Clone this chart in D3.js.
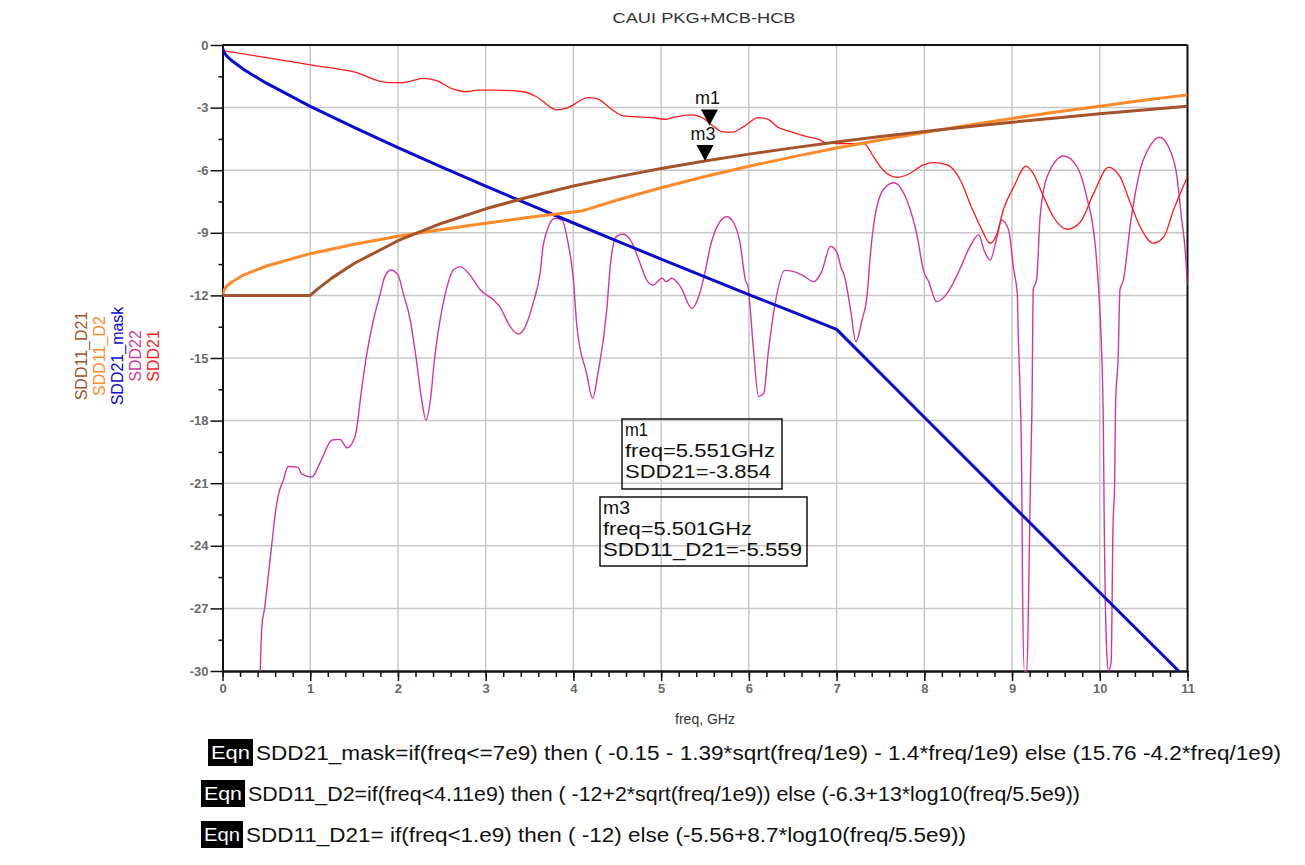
<!DOCTYPE html>
<html>
<head>
<meta charset="utf-8">
<script src="https://cdn.jsdelivr.net/npm/d3@7"></script>
<style>
  body { margin: 0; background: #fff; }
  text { font-family: "Liberation Sans", Arial, sans-serif; }
</style>
</head>
<body>
<div id="chart"></div>
<script>
// ---- data (freq in GHz, values in dB) ----
var maskFreq = [0, 0.02, 0.05, 0.1, 0.25, 0.5, 1, 1.5, 2, 2.5, 3, 3.5, 4, 4.5, 5, 5.5, 6, 6.5, 7, 8, 9, 10, 10.9];
var maskVal  = [-0.15, -0.37, -0.53, -0.73, -1.2, -1.83, -2.94, -3.95, -4.92, -5.85, -6.76, -7.65, -8.53, -9.4, -10.26, -11.11, -11.96, -12.79, -13.63, -17.84, -22.04, -26.24, -30];

var d2Freq = [0, 0.02, 0.05, 0.1, 0.25, 0.5, 1, 1.5, 2, 2.5, 3, 3.5, 4, 4.11, 4.5, 5, 5.5, 6, 6.5, 7, 7.5, 8, 8.5, 9, 9.5, 10, 10.5, 11];
var d2Val  = [-12, -11.72, -11.55, -11.37, -11.0, -10.59, -10.0, -9.55, -9.17, -8.84, -8.54, -8.26, -8.0, -7.94, -7.43, -6.84, -6.3, -5.81, -5.36, -4.94, -4.55, -4.19, -3.84, -3.52, -3.21, -2.93, -2.65, -2.39];

var d21Freq = [0, 1, 1.1, 1.25, 1.5, 2, 2.5, 3, 3.5, 4, 4.5, 5, 5.5, 6, 6.5, 7, 7.5, 8, 8.5, 9, 9.5, 10, 10.5, 11];
var d21Val  = [-12, -12, -11.64, -11.16, -10.47, -9.38, -8.54, -7.85, -7.27, -6.76, -6.32, -5.92, -5.56, -5.23, -4.93, -4.65, -4.39, -4.15, -3.92, -3.7, -3.5, -3.3, -3.12, -2.94];

var sdd21Freq = [0, 0.5, 1.02, 1.49, 1.89, 2.06, 2.29, 2.44, 2.63, 2.77, 2.92, 3.09, 3.43, 3.58, 3.81, 3.92, 4.17, 4.28, 4.42, 4.57, 4.87, 5.06, 5.14, 5.35, 5.48, 5.6, 5.69, 5.81, 5.94, 6.11, 6.22, 6.32, 6.47, 6.66, 6.81, 6.87, 7.0, 7.15, 7.31, 7.42, 7.53, 7.69, 7.8, 7.99, 8.1, 8.26, 8.41, 8.52, 8.64, 8.75, 8.83, 8.9, 9.02, 9.16, 9.24, 9.36, 9.47, 9.63, 9.78, 9.93, 10.1, 10.23, 10.35, 10.46, 10.61, 10.73, 10.84, 11.0];
var sdd21Val  = [-0.27, -0.6, -0.96, -1.28, -1.8, -1.8, -1.6, -1.71, -2.12, -2.24, -2.16, -2.16, -2.24, -2.48, -3.11, -3.03, -2.52, -2.59, -3.03, -3.4, -3.47, -3.56, -3.47, -3.35, -3.51, -3.91, -4.15, -4.18, -3.91, -3.48, -3.56, -3.91, -4.15, -4.39, -4.55, -4.68, -4.72, -4.73, -4.71, -5.35, -5.99, -6.34, -6.23, -5.75, -5.64, -5.75, -6.47, -7.59, -8.71, -9.5, -9.02, -7.91, -6.79, -5.8, -6.15, -7.27, -8.23, -8.83, -8.47, -7.11, -5.86, -6.31, -7.59, -8.71, -9.5, -9.19, -7.91, -6.31];

var sdd22Freq = [0.43, 0.45, 0.48, 0.52, 0.56, 0.6, 0.64, 0.69, 0.75, 0.86, 0.9, 1.02, 1.11, 1.25, 1.34, 1.42, 1.51, 1.59, 1.64, 1.72, 1.8, 1.85, 1.92, 2.0, 2.06, 2.14, 2.21, 2.27, 2.32, 2.37, 2.42, 2.48, 2.56, 2.63, 2.71, 2.82, 2.94, 3.09, 3.16, 3.28, 3.37, 3.43, 3.54, 3.62, 3.66, 3.79, 3.87, 3.94, 4.0, 4.04, 4.15, 4.22, 4.28, 4.38, 4.42, 4.49, 4.57, 4.67, 4.76, 4.84, 4.91, 5.01, 5.06, 5.12, 5.22, 5.35, 5.44, 5.5, 5.56, 5.67, 5.75, 5.82, 5.9, 5.96, 5.99, 6.05, 6.11, 6.17, 6.22, 6.3, 6.41, 6.51, 6.62, 6.74, 6.83, 6.93, 7.0, 7.06, 7.08, 7.16, 7.22, 7.29, 7.35, 7.38, 7.42, 7.53, 7.65, 7.8, 7.92, 7.99, 8.05, 8.14, 8.26, 8.41, 8.52, 8.62, 8.68, 8.75, 8.83, 8.88, 8.96, 9.02, 9.06, 9.07, 9.09, 9.11, 9.12, 9.14, 9.17, 9.19, 9.21, 9.23, 9.24, 9.28, 9.32, 9.4, 9.59, 9.74, 9.85, 9.95, 9.99, 10.01, 10.04, 10.05, 10.08, 10.1, 10.13, 10.15, 10.17, 10.18, 10.21, 10.23, 10.27, 10.35, 10.46, 10.58, 10.68, 10.8, 10.88, 10.93, 10.97, 11.0];
var sdd22Val  = [-30, -27.8, -27.0, -25.5, -24.0, -22.5, -21.5, -20.9, -20.2, -20.23, -20.55, -20.7, -20.04, -18.93, -18.9, -19.3, -18.77, -16.37, -14.93, -13.18, -11.9, -11.1, -10.78, -11.02, -11.9, -13.18, -15.09, -17.0, -17.97, -17.0, -14.93, -13.18, -11.58, -10.78, -10.62, -11.02, -11.74, -12.22, -12.54, -13.5, -13.85, -13.66, -12.38, -10.94, -9.5, -8.3, -8.39, -9.5, -11.26, -13.5, -15.73, -16.93, -15.73, -12.7, -10.6, -9.18, -9.06, -9.5, -10.46, -11.3, -11.5, -11.18, -11.34, -11.18, -11.58, -12.62, -11.9, -10.9, -9.66, -8.47, -8.23, -8.47, -9.5, -11.26, -11.58, -14.46, -16.85, -16.69, -14.77, -12.38, -10.8, -10.86, -11.05, -11.34, -10.86, -9.66, -9.9, -10.78, -10.94, -12.7, -14.22, -13.18, -11.9, -10.3, -8.71, -6.95, -6.6, -7.43, -9.18, -10.8, -11.34, -12.3, -11.9, -10.7, -9.66, -9.1, -9.82, -10.3, -9.18, -8.39, -8.86, -10.8, -11.9, -13.81, -16.37, -20.6, -26.1, -30, -30, -26.1, -20.8, -16.37, -11.74, -11.26, -8.23, -6.31, -5.32, -5.83, -7.27, -9.66, -11.9, -13.5, -17.97, -22.6, -29.15, -30, -29.55, -23.24, -20.84, -17.17, -14.93, -11.74, -11.26, -8.55, -5.99, -4.79, -4.42, -5.03, -6.31, -8.23, -9.66, -11.5];

var xTicks = [0, 1, 2, 3, 4, 5, 6, 7, 8, 9, 10, 11];
var yTicks = [0, -3, -6, -9, -12, -15, -18, -21, -24, -27, -30];

var legendNames  = ["SDD11_D21", "SDD11_D2", "SDD21_mask", "SDD22", "SDD21"];
var legendColors = ["#a5532b", "#ff8a2a", "#0a0ad2", "#d4369e", "#ff1a1a"];

var markerNames = ["m1", "m3"];
var markerFreq  = [5.551, 5.501];
var markerVal   = [-3.854, -5.559];
var markerText  = [["m1", "freq=5.551GHz", "SDD21=-3.854"], ["m3", "freq=5.501GHz", "SDD11_D21=-5.559"]];

var eqnLines = [
  "SDD21_mask=if(freq<=7e9) then ( -0.15 - 1.39*sqrt(freq/1e9) - 1.4*freq/1e9)  else (15.76 -4.2*freq/1e9)",
  "SDD11_D2=if(freq<4.11e9) then ( -12+2*sqrt(freq/1e9))  else (-6.3+13*log10(freq/5.5e9))",
  "SDD11_D21= if(freq<1.e9) then ( -12)  else (-5.56+8.7*log10(freq/5.5e9))"
];

// ---- layout ----
var W = 1305, H = 865;
var pL = 222.5, pR = 1187.5, pT = 45, pB = 671;

var svg = d3.select("#chart").append("svg")
  .attr("width", W).attr("height", H);

var x = d3.scaleLinear().domain([0, 11]).range([pL, pR]);
var y = d3.scaleLinear().domain([-30, 0]).range([pB, pT]);

// title
svg.append("text")
  .attr("x", 704).attr("y", 23)
  .attr("text-anchor", "middle")
  .attr("textLength", 183).attr("lengthAdjust", "spacingAndGlyphs")
  .style("font-size", "15px").attr("fill", "#333")
  .text("CAUI PKG+MCB-HCB");

// grid
svg.append("g").selectAll("line").data(xTicks.slice(1, -1)).enter().append("line")
  .attr("x1", d => x(d)).attr("x2", d => x(d))
  .attr("y1", pT).attr("y2", pB)
  .attr("stroke", "#c8c8c8").attr("stroke-width", 1.5);
svg.append("g").selectAll("line").data(yTicks.slice(1, -1)).enter().append("line")
  .attr("x1", pL).attr("x2", pR)
  .attr("y1", d => y(d)).attr("y2", d => y(d))
  .attr("stroke", "#c8c8c8").attr("stroke-width", 1.5);

// axes
var plainFmt = function(d) { return String(d); };
var xAxis = svg.append("g")
  .attr("transform", "translate(0," + pB + ")")
  .call(d3.axisBottom(x).tickValues(xTicks).tickSize(10).tickSizeOuter(0).tickPadding(3).tickFormat(plainFmt));
var xMinor = svg.append("g")
  .attr("transform", "translate(0," + pB + ")")
  .call(d3.axisBottom(x).ticks(55).tickSize(6).tickSizeOuter(0).tickFormat(""));
var yAxis = svg.append("g")
  .attr("transform", "translate(" + pL + ",0)")
  .call(d3.axisLeft(y).tickValues(yTicks).tickSize(12).tickSizeOuter(0).tickPadding(2).tickFormat(plainFmt));
var yMinor = svg.append("g")
  .attr("transform", "translate(" + pL + ",0)")
  .call(d3.axisLeft(y).tickValues(d3.range(-28.5, 0, 3)).tickSize(4).tickSizeOuter(0).tickFormat(""));

[xAxis, xMinor, yAxis, yMinor].forEach(function(g) {
  g.select(".domain").attr("stroke", "#111").attr("stroke-width", 2);
  g.selectAll(".tick line").attr("stroke", "#111").attr("stroke-width", 1.5);
  g.selectAll(".tick text").attr("fill", "#6a6a6a").style("font-size", "13px").style("font-weight", "bold");
});

// top and right border
svg.append("line").attr("x1", pL).attr("x2", pR).attr("y1", pT).attr("y2", pT)
  .attr("stroke", "#111").attr("stroke-width", 2);
svg.append("line").attr("x1", pR).attr("x2", pR).attr("y1", pT).attr("y2", pB)
  .attr("stroke", "#111").attr("stroke-width", 2);

// x label
svg.append("text")
  .attr("x", 705).attr("y", 724).attr("text-anchor", "middle")
  .style("font-size", "14px").attr("fill", "#333")
  .text("freq, GHz");

// clip
svg.append("clipPath").attr("id", "plotClip").append("rect")
  .attr("x", pL).attr("y", pT - 1).attr("width", pR - pL).attr("height", pB - pT + 2);

// measured traces smooth, equation traces straight between points (keeps the kinks)
var smoothLine = d3.line().x(d => x(d[0])).y(d => y(d[1])).curve(d3.curveMonotoneX);
var straightLine = d3.line().x(d => x(d[0])).y(d => y(d[1]));
function zip(a, b) { return a.map(function(v, i) { return [v, b[i]]; }); }

var plot = svg.append("g").attr("clip-path", "url(#plotClip)");

var series = [
  { pts: zip(sdd22Freq, sdd22Val), color: legendColors[3], w: 1.4, gen: smoothLine },
  { pts: zip(sdd21Freq, sdd21Val), color: legendColors[4], w: 1.3, gen: smoothLine },
  { pts: zip(maskFreq, maskVal),   color: legendColors[2], w: 3, gen: straightLine },
  { pts: zip(d2Freq, d2Val),       color: legendColors[1], w: 3, gen: straightLine },
  { pts: zip(d21Freq, d21Val),     color: legendColors[0], w: 3, gen: straightLine }
];
series.forEach(function(s) {
  plot.append("path")
    .datum(s.pts)
    .attr("d", s.gen)
    .attr("fill", "none")
    .attr("stroke", s.color)
    .attr("stroke-width", s.w)
    .attr("stroke-linejoin", "round");
});

// legend (rotated)
svg.append("g").selectAll("text").data(legendNames).enter().append("text")
  .attr("transform", function(d, i) { return "translate(" + (87 + i * 18) + ",356) rotate(-90)"; })
  .attr("text-anchor", "middle")
  .attr("fill", (d, i) => legendColors[i])
  .style("font-size", "16px")
  .text(d => d);

// markers
markerNames.forEach(function(m, i) {
  var px = x(markerFreq[i]), py = y(markerVal[i]);
  svg.append("path")
    .attr("d", "M" + (px - 8.5) + "," + (py - 16) + "L" + (px + 8.5) + "," + (py - 16) + "L" + px + "," + py + "Z")
    .attr("fill", "#000");
  svg.append("text")
    .attr("x", px - 2).attr("y", py - 21)
    .attr("text-anchor", "middle")
    .style("font-size", "18px").attr("fill", "#111")
    .text(m);
});

// marker readout boxes
var boxes = [
  { x: 622, y: 419, w: 160, h: 70, base: [436, 457, 478], len: [23, 150, 146] },
  { x: 600, y: 497, w: 207, h: 69, base: [514, 535, 556], len: [27, 149, 199] }
];
boxes.forEach(function(b, i) {
  svg.append("rect")
    .attr("x", b.x).attr("y", b.y).attr("width", b.w).attr("height", b.h)
    .attr("fill", "none").attr("stroke", "#111").attr("stroke-width", 1.5);
  markerText[i].forEach(function(t, j) {
    svg.append("text")
      .attr("x", b.x + 3).attr("y", b.base[j])
      .attr("textLength", b.len[j]).attr("lengthAdjust", "spacingAndGlyphs")
      .style("font-size", "18px").attr("fill", "#111")
      .text(t);
  });
});

// equations
var eqnBox = [{ x: 208, y: 739, w: 45 }, { x: 201, y: 780, w: 44 }, { x: 201, y: 821, w: 42 }];
var eqnEnd = [1281, 1080, 966];
eqnLines.forEach(function(t, i) {
  var b = eqnBox[i];
  svg.append("rect").attr("x", b.x).attr("y", b.y).attr("width", b.w).attr("height", 27).attr("fill", "#000");
  svg.append("text")
    .attr("x", b.x + b.w / 2).attr("y", b.y + 20).attr("text-anchor", "middle")
    .attr("textLength", b.w - 6).attr("lengthAdjust", "spacingAndGlyphs")
    .style("font-size", "19px").attr("fill", "#fff").text("Eqn");
  svg.append("text")
    .attr("x", b.x + b.w + 3).attr("y", b.y + 21)
    .attr("textLength", eqnEnd[i] - (b.x + b.w + 3)).attr("lengthAdjust", "spacingAndGlyphs")
    .style("font-size", "20px").attr("fill", "#111").text(t);
});
</script>
</body>
</html>
